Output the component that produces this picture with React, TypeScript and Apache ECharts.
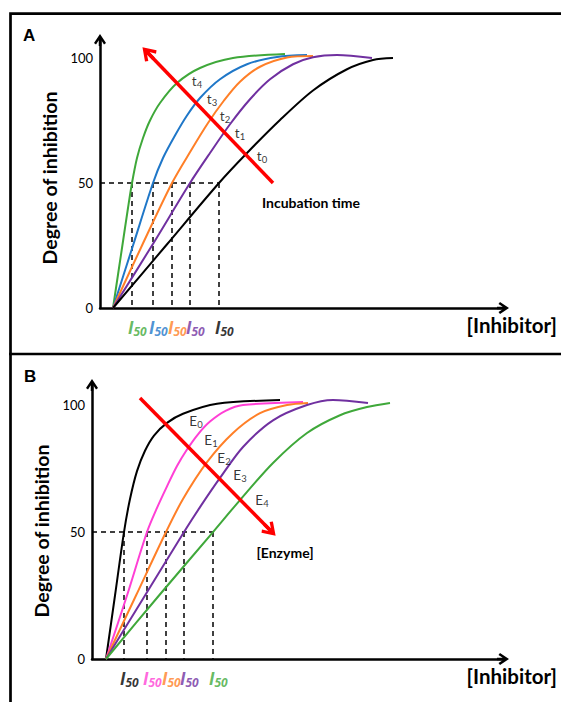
import React, { useEffect, useRef } from 'react';
import * as echarts from 'echarts';

// ---------- Panel A : effect of incubation time ----------
const namesA = ['t4', 't3', 't2', 't1', 't0'];
const colorsA = ['#3fa83a', '#1f77c8', '#ff7f27', '#7030a0', '#000000'];
const curveA_t4 = [[13, 0], [22, 24], [28, 40], [32, 50], [37, 60], [43, 68], [50, 75], [60, 82], [77, 90], [100, 96], [133, 100], [185, 101.6]];
const curveA_t3 = [[13, 0], [33, 25], [53, 50], [63, 60], [75, 69], [87, 77], [100, 84], [120, 91.5], [147, 97.5], [177, 100.4], [207, 101.2]];
const curveA_t2 = [[13, 0], [42, 25], [72, 50], [91, 63], [108, 74], [124, 83], [140, 90.5], [160, 96.5], [187, 100.2], [213, 100.8]];
const curveA_t1 = [[13, 0], [52, 25], [90, 50], [110, 62], [130, 73.5], [150, 83.5], [170, 91.5], [193, 97.5], [213, 100.3], [237, 101.2], [272, 100]];
const curveA_t0 = [[13, 0], [66, 25], [119, 50], [147, 62], [180, 75.2], [213, 87], [247, 95.5], [273, 99.2], [293, 100]];
const curvesA = [curveA_t4, curveA_t3, curveA_t2, curveA_t1, curveA_t0];
const i50A = [32, 53, 72, 90, 119];
const arrowA = [[173, 50], [48, 102]];
const tagPosA = [[97, 90.8], [112, 83.6], [125, 76.8], [140, 70], [162, 60.8]];

// ---------- Panel B : effect of enzyme concentration ----------
const namesB = ['E0', 'E1', 'E2', 'E3', 'E4'];
const colorsB = ['#000000', '#ff3fd5', '#ff7f27', '#7030a0', '#3fa83a'];
const curveB_E0 = [[14, 0], [23, 25], [32, 50], [38, 63], [45, 74], [53, 82], [62, 88], [75, 93], [91, 96.6], [125, 100.5], [188, 102]];
const curveB_E1 = [[14, 0], [35, 25], [55, 50], [65, 59.5], [75, 68], [85, 76], [95, 82.5], [106, 88.5], [118, 93.5], [134, 97.8], [151, 100], [211, 101.2]];
const curveB_E2 = [[14, 0], [44, 25], [74, 50], [91, 63], [115, 77.5], [141, 89], [168, 96.8], [195, 100], [216, 100.8]];
const curveB_E3 = [[14, 0], [53, 25], [92, 50], [108, 59.8], [128, 71.3], [151, 83.5], [181, 94], [215, 100], [241, 102], [276, 100.8]];
const curveB_E4 = [[14, 0], [67, 25], [121, 50], [148, 62.6], [181, 77.2], [215, 89], [248, 96], [275, 99.2], [298, 100.8]];
const curvesB = [curveB_E0, curveB_E1, curveB_E2, curveB_E3, curveB_E4];
const i50B = [32, 55, 74, 92, 121];
const arrowB = [[48, 102.8], [178, 50.8]];
const tagPosB = [[104, 93.7], [119, 86.2], [132, 79.1], [148, 72.4], [170, 62.6]];

const yTicks = [0, 50, 100];
const halfLevel = 50;

const FONT = 'Lato, "Open Sans", sans-serif';
const CHEVRON = 'path://M12,0 L24,18 L20,21 L14.5,12.5 L14.5,24 L9.5,24 L9.5,12.5 L4,21 L0,18 Z';

function xAxisCfg(gridIndex: number, max: number) {
  return {
    type: 'value', gridIndex, min: 0, max,
    axisLine: { show: true, onZero: false, symbol: ['none', CHEVRON], symbolSize: [12, 12], lineStyle: { color: '#000', width: 2.5 } },
    axisTick: { show: false }, axisLabel: { show: false }, splitLine: { show: false },
    name: '[Inhibitor]', nameLocation: 'end', nameGap: 54,
    nameTextStyle: { fontFamily: FONT, fontWeight: 'bold', fontSize: 20.5, color: '#000', align: 'right', verticalAlign: 'top', padding: [6, 0, 0, 0] },
  };
}

function yAxisCfg(gridIndex: number, max: number, shift: number) {
  return {
    type: 'value', gridIndex, min: 0, max, interval: 50,
    axisLine: { show: true, onZero: false, symbol: ['none', CHEVRON], symbolSize: [12, 12], lineStyle: { color: '#000', width: 2.5 } },
    axisTick: { show: false }, splitLine: { show: false },
    axisLabel: {
      margin: 7, fontFamily: FONT, fontSize: 13, color: '#000',
      formatter: (v: number) => (yTicks.indexOf(v) >= 0 ? String(v) : ''),
    },
    name: 'Degree of inhibition', nameLocation: 'middle', nameGap: 40,
    nameTextStyle: { fontFamily: FONT, fontWeight: 'bold', fontSize: 19.5, color: '#000', padding: [0, shift, 0, 0] },
  };
}

const subRich = (color: string) => ({
  m: { fontFamily: FONT, fontSize: 13.5, color, lineHeight: 16 },
  s: { fontFamily: FONT, fontSize: 9.5, color, lineHeight: 8, verticalAlign: 'bottom' },
});

function panelSeries(idx: number, names: string[], colors: string[], curves: number[][][], i50: number[], arrow: number[][], tagPos: number[][]) {
  const out: any[] = [];
  const maxI50 = Math.max(...i50);
  out.push({
    type: 'line', xAxisIndex: idx, yAxisIndex: idx, silent: true, showSymbol: false, z: 1,
    data: [[0, halfLevel], [maxI50, halfLevel]],
    lineStyle: { color: '#000', width: 1.5, type: [5, 4] },
  });
  i50.forEach((x) => {
    out.push({
      type: 'line', xAxisIndex: idx, yAxisIndex: idx, silent: true, showSymbol: false, z: 1,
      data: [[x, halfLevel], [x, 0]],
      lineStyle: { color: '#000', width: 1.5, type: [5, 4] },
    });
  });
  curves.forEach((c, i) => {
    out.push({
      type: 'line', name: names[i], xAxisIndex: idx, yAxisIndex: idx, silent: true, showSymbol: false, z: 3,
      smooth: 0.3, data: c, lineStyle: { color: colors[i], width: 2 },
    });
  });
  out.push({
    type: 'scatter', xAxisIndex: idx, yAxisIndex: idx, silent: true, z: 5, symbolSize: 0,
    itemStyle: { color: 'transparent' },
    data: tagPos.map((p, i) => ({
      value: p,
      label: { formatter: `{m|${names[i][0]}}{s|${names[i].slice(1)}}` },
    })),
    label: { show: true, position: 'inside', rich: subRich('#000') },
    markLine: {
      silent: true, symbol: ['none', CHEVRON], symbolSize: 16, animation: false,
      label: { show: false },
      lineStyle: { color: '#ff0000', width: 3.5, type: 'solid' },
      data: [[{ coord: arrow[0] }, { coord: arrow[1] }]],
    },
  });
  const rich: any = {};
  colors.forEach((c, i) => {
    rich['i' + i] = { fontFamily: '"Open Sans", "Noto Sans", sans-serif', fontSize: 17, fontWeight: 'bold', fontStyle: 'italic', color: c, lineHeight: 19 };
    rich['n' + i] = { fontFamily: '"Open Sans", "Noto Sans", sans-serif', fontSize: 12, fontWeight: 'bold', fontStyle: 'italic', color: c, lineHeight: 9, verticalAlign: 'bottom' };
  });
  out.push({
    type: 'scatter', xAxisIndex: idx, yAxisIndex: idx, silent: true, z: 5, symbolSize: 0,
    itemStyle: { color: 'transparent' },
    data: i50.map((x, i) => ({ value: [x, 0], label: { formatter: `{i${i}|I}{n${i}|50}` } })),
    label: { show: true, position: [-4, 10], rich },
  });
  return out;
}

const option: any = {
  animation: false,
  backgroundColor: '#fff',
  grid: [
    { left: 100, top: 40, width: 403, height: 268 },
    { left: 92, top: 385, width: 411, height: 274 },
  ],
  xAxis: [xAxisCfg(0, 403), xAxisCfg(1, 411)],
  yAxis: [yAxisCfg(0, 107.2, 8), yAxisCfg(1, 107.9, 18)],
  series: [
    ...panelSeries(0, namesA, colorsA, curvesA, i50A, arrowA, tagPosA),
    ...panelSeries(1, namesB, colorsB, curvesB, i50B, arrowB, tagPosB),
  ],
  graphic: [
    { type: 'rect', silent: true, shape: { x: 10.5, y: 13.7, width: 600, height: 720 }, style: { fill: 'none', stroke: '#000', lineWidth: 2.7 } },
    { type: 'line', silent: true, shape: { x1: 9, y1: 354, x2: 561, y2: 354 }, style: { stroke: '#000', lineWidth: 2.7 } },
    { type: 'text', left: 23, top: 27, style: { text: 'A', font: 'bold 17px "Liberation Sans", Arial, sans-serif', fill: '#000' } },
    { type: 'text', left: 24, top: 368, style: { text: 'B', font: 'bold 17px "Liberation Sans", Arial, sans-serif', fill: '#000' } },
    { type: 'text', x: 311, y: 202, style: { text: 'Incubation time', font: `bold 14px ${FONT}`, fill: '#000', align: 'center', verticalAlign: 'middle' } },
    { type: 'text', x: 285, y: 552, style: { text: '[Enzyme]', font: `bold 14px ${FONT}`, fill: '#000', align: 'center', verticalAlign: 'middle' } },
  ],
};

export default function App() {
  const ref = useRef<HTMLDivElement>(null);
  useEffect(() => {
    const chart = echarts.init(ref.current as HTMLDivElement, null, { renderer: 'svg' });
    chart.setOption(option);
    return () => chart.dispose();
  }, []);
  return <div ref={ref} style={{ position: 'fixed', left: 0, top: 0, width: 561, height: 702, background: '#fff' }} />;
}
